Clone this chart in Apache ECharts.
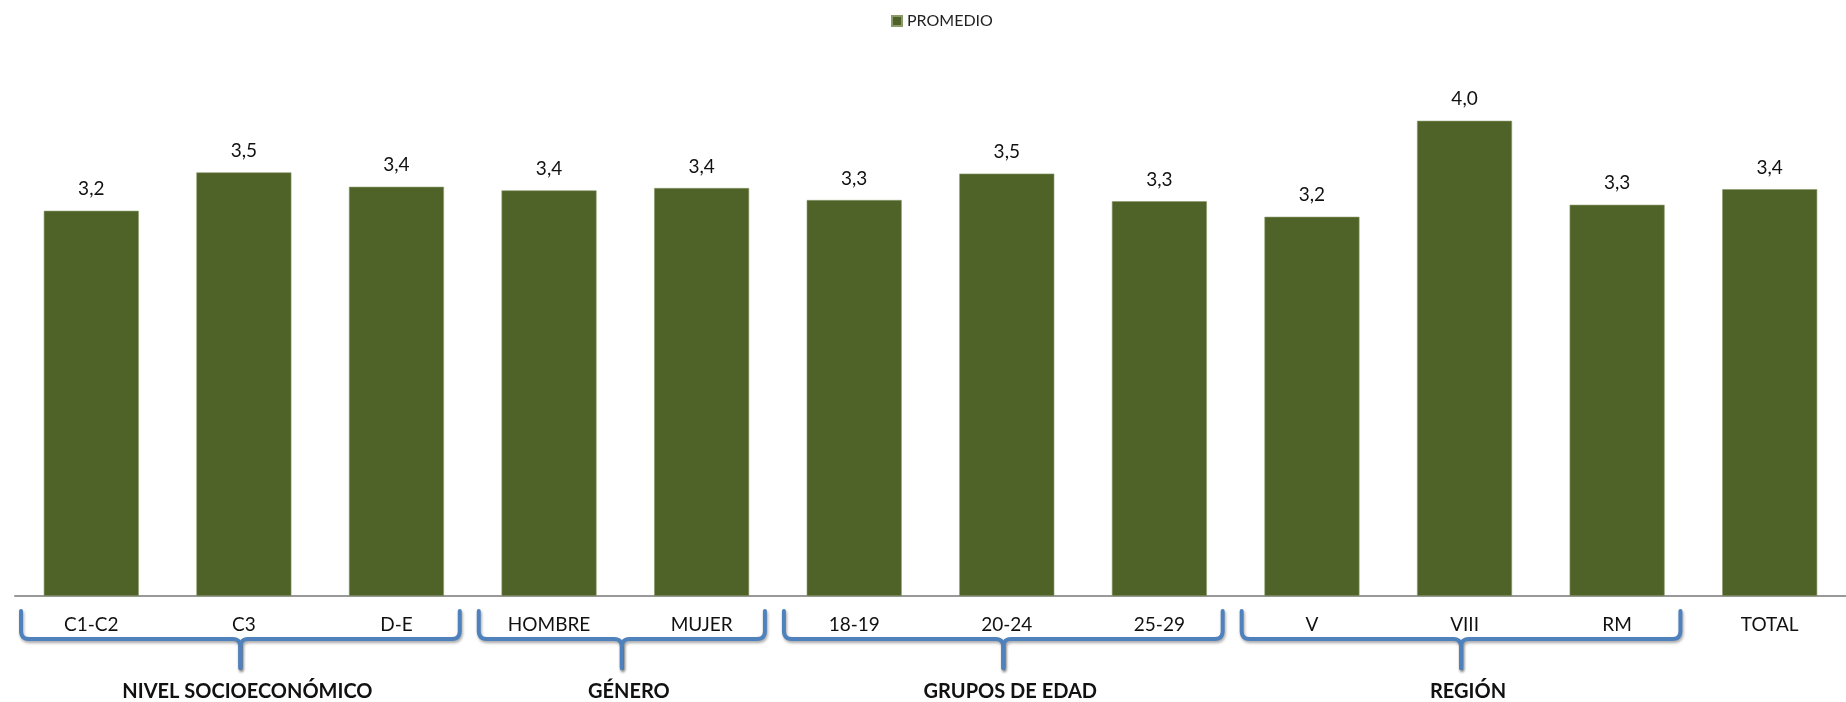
<!DOCTYPE html>
<html>
<head>
<meta charset="utf-8">
<script src="https://cdn.jsdelivr.net/npm/echarts@6/dist/echarts.min.js"></script>
<style>
  html, body { margin: 0; padding: 0; background: #fff; }
  #chart { width: 1846px; height: 702px; }
</style>
</head>
<body>
<div id="chart"></div>
<script>
// categories and values
var categories = ["C1-C2", "C3", "D-E", "HOMBRE", "MUJER", "18-19", "20-24", "25-29", "V", "VIII", "RM", "TOTAL"];
var promedio = [3.21, 3.53, 3.41, 3.38, 3.40, 3.30, 3.52, 3.29, 3.16, 3.96, 3.26, 3.39];
var seriesName = "PROMEDIO";
// groups under the axis: label, first and last category index
var groupNames = ["NIVEL SOCIOECONÓMICO", "GÉNERO", "GRUPOS DE EDAD", "REGIÓN"];
var groupStart = [0, 3, 5, 8];
var groupEnd = [2, 4, 7, 10];

var FONT = "Lato, 'Open Sans', sans-serif";
var BRACE_COLOR = "#4F81BD";

var chart = echarts.init(document.getElementById("chart"));

chart.setOption({
  animation: false,
  legend: {
    data: [seriesName],
    left: 886,
    top: 8,
    icon: "rect",
    itemWidth: 10,
    itemHeight: 10,
    itemGap: 6,
    textStyle: { fontFamily: FONT, fontSize: 16, color: "#222" }
  },
  grid: {
    left: 15,
    width: 1842,
    top: 56,
    bottom: 106,
    containLabel: false
  },
  xAxis: {
    type: "category",
    data: categories,
    axisLine: { lineStyle: { color: "#999", width: 2 } },
    axisTick: { show: false },
    axisLabel: {
      margin: 19,
      fontFamily: FONT,
      fontSize: 19,
      color: "#111"
    }
  },
  yAxis: {
    type: "value",
    min: 0,
    max: 4.5,
    show: false,
    splitLine: { show: false }
  },
  series: [
    {
      name: seriesName,
      type: "bar",
      data: promedio,
      barWidth: 95,
      itemStyle: { color: "#4F6228", borderColor: "#8a9a6a", borderWidth: 0.6 },
      label: {
        show: true,
        position: "top",
        distance: 12,
        fontFamily: FONT,
        fontSize: 19,
        color: "#111",
        formatter: function (p) {
          return p.value.toFixed(1).replace(".", ",");
        }
      }
    }
  ]
});

// points along a quadratic curve, for the rounded corners of the braces
function quad(a, b, c, n) {
  var pts = [];
  for (var k = 1; k <= n; k++) {
    var t = k / n, u = 1 - t;
    pts.push([
      u * u * a[0] + 2 * u * t * b[0] + t * t * c[0],
      u * u * a[1] + 2 * u * t * b[1] + t * t * c[1]
    ]);
  }
  return pts;
}

function halfBrace(xEnd, xm, y0, y1, y2, r) {
  var s = xm > xEnd ? 1 : -1;
  var pts = [[xEnd, y0], [xEnd, y1 - r]];
  pts = pts.concat(quad([xEnd, y1 - r], [xEnd, y1], [xEnd + s * r, y1], 6));
  pts.push([xm - s * r, y1]);
  pts = pts.concat(quad([xm - s * r, y1], [xm, y1], [xm, y1 + r], 6));
  pts.push([xm, y2]);
  return pts;
}

// braces and group titles, placed from the category axis
function drawGroups() {
  var c0 = chart.convertToPixel({ xAxisIndex: 0 }, 0);
  var c1 = chart.convertToPixel({ xAxisIndex: 0 }, 1);
  var catW = c1 - c0;
  var axisY = chart.convertToPixel({ yAxisIndex: 0 }, 0);
  var y0 = axisY + 15, y1 = axisY + 43, y2 = axisY + 72, r = 8;
  var elements = [];
  var lineStyle = {
    fill: null,
    stroke: BRACE_COLOR,
    lineWidth: 4,
    lineCap: "round",
    lineJoin: "round",
    shadowBlur: 3,
    shadowColor: "rgba(0,0,0,0.35)",
    shadowOffsetX: 1,
    shadowOffsetY: 2
  };

  groupNames.forEach(function (name, i) {
    var xl = chart.convertToPixel({ xAxisIndex: 0 }, groupStart[i]) - catW / 2 + 6;
    var xr = chart.convertToPixel({ xAxisIndex: 0 }, groupEnd[i]) + catW / 2 - 13;
    var xm = (xl + xr) / 2;
    elements.push({
      type: "polyline",
      shape: { points: halfBrace(xl, xm, y0, y1, y2, r) },
      style: lineStyle
    });
    elements.push({
      type: "polyline",
      shape: { points: halfBrace(xr, xm, y0, y1, y2, r) },
      style: lineStyle
    });
    elements.push({
      type: "text",
      x: xm + 7,
      y: axisY + 96,
      style: {
        text: name,
        fontFamily: FONT,
        fontSize: 20,
        fontWeight: "bold",
        fill: "#111",
        align: "center",
        verticalAlign: "middle"
      }
    });
  });

  chart.setOption({ graphic: { elements: elements } });
}

drawGroups();
</script>
</body>
</html>
